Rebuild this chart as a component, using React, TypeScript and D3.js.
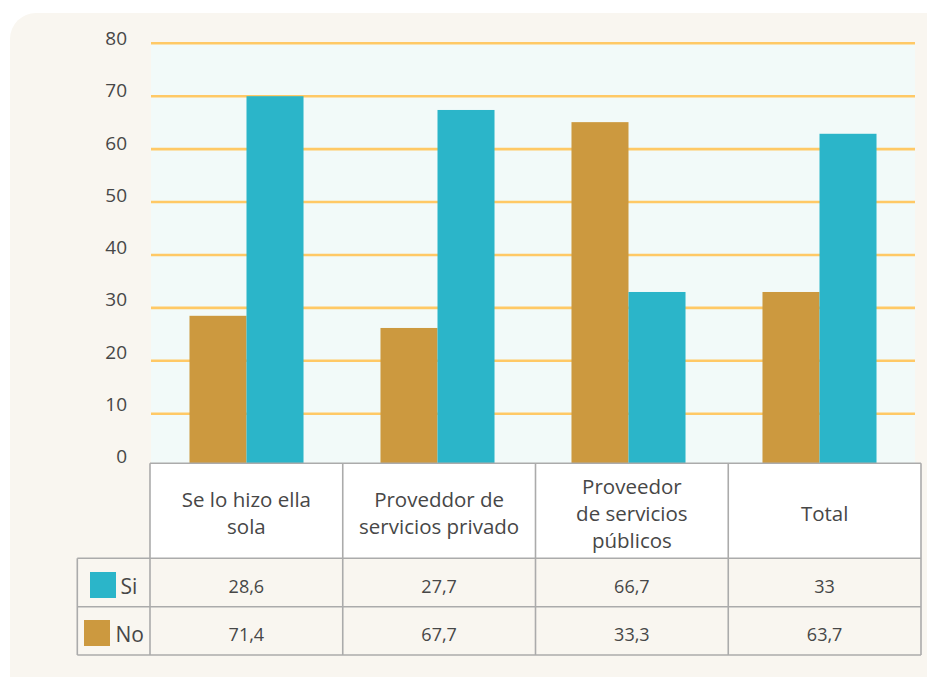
import React from "react";
import * as d3 from "d3";

const categories = ["Se lo hizo ella sola", "Proveddor de servicios privado", "Proveedor de servicios públicos", "Total"];
const categoryLines = [["Se lo hizo ella", "sola"], ["Proveddor de", "servicios privado"], ["Proveedor", "de servicios", "públicos"], ["Total"]];
const seriesKeys = ["No", "Si"];
// bar heights as drawn in the picture
const barNo = [28.5, 26.2, 65.1, 33.0];
const barSi = [70.0, 67.4, 33.0, 62.9];
// table values as printed
const tableSi = ["28,6", "27,7", "66,7", "33"];
const tableNo = ["71,4", "67,7", "33,3", "63,7"];
const yTicks = [0, 10, 20, 30, 40, 50, 60, 70, 80];

const COLORS: Record<string, string> = { Si: "#2bb5c9", No: "#cc993f" };
const FONT = "'Open Sans', sans-serif";
const TEXT = "#474747";

export default function App() {
  const W = 927, H = 677;
  const plotL = 151, plotR = 915, plotT = 43.3, plotB = 466.6;
  const y = d3.scaleLinear().domain([0, 80]).range([plotB, plotT]);
  const yLab = d3.scaleLinear().domain([0, 80]).range([463, 45]);
  const x0 = d3.scaleBand<string>().domain(categories).range([plotL, plotR]).padding(0);
  const x1 = d3.scaleBand<string>().domain(seriesKeys).range([0, x0.bandwidth()]).paddingInner(0).paddingOuter(0.675);
  const values: Record<string, number[]> = { No: barNo, Si: barSi };

  const tL = 150, tR = 921, legL = 77.3;
  const xt = d3.scaleBand<string>().domain(categories).range([tL, tR]);
  const rowHeadT = 463.3, rowSiT = 558.3, rowNoT = 606.7, rowEnd = 655;
  const border = "#ababab";
  const sw = 1.6;

  return (
    <svg width={W} height={H} style={{ position: "absolute", left: 0, top: 0 }} fontFamily={FONT}>
      <rect x={0} y={0} width={W} height={H} fill="#ffffff" />
      <rect x={10} y={13} width={W + 20} height={H + 40} rx={26} ry={26} fill="#f9f6f0" />
      <rect x={plotL} y={plotT} width={plotR - plotL} height={plotB - plotT} fill="#f2faf9" />
      {yTicks.filter((t) => t > 0).map((t) => (
        <line key={t} x1={plotL} x2={plotR} y1={y(t)} y2={y(t)} stroke="#ffc966" strokeWidth={2.6} />
      ))}
      {yTicks.map((t) => (
        <text key={t} x={127} y={yLab(t)} textAnchor="end" fontSize={19} fill={TEXT}>{t}</text>
      ))}
      {categories.map((c, i) => (
        <g key={c} transform={`translate(${x0(c)},0)`}>
          {seriesKeys.map((k) => (
            <rect key={k} x={x1(k)} y={y(values[k][i])} width={x1.bandwidth()} height={plotB - y(values[k][i])} fill={COLORS[k]} />
          ))}
        </g>
      ))}
      {/* table */}
      <rect x={tL} y={rowHeadT} width={tR - tL} height={rowSiT - rowHeadT} fill="#ffffff" />
      <rect x={legL} y={rowSiT} width={tR - legL} height={rowEnd - rowSiT} fill="#f9f6f0" />
      <g stroke={border} strokeWidth={sw} fill="none">
        <line x1={tL} x2={tR} y1={rowHeadT} y2={rowHeadT} />
        <line x1={legL} x2={tR} y1={rowSiT} y2={rowSiT} />
        <line x1={legL} x2={tR} y1={rowNoT} y2={rowNoT} />
        <line x1={legL} x2={tR} y1={rowEnd} y2={rowEnd} />
        <line x1={legL} x2={legL} y1={rowSiT} y2={rowEnd} />
        {categories.map((c) => (
          <line key={c} x1={xt(c)} x2={xt(c)} y1={rowHeadT} y2={rowEnd} />
        ))}
        <line x1={tR} x2={tR} y1={rowHeadT} y2={rowEnd} />
      </g>
      {categories.map((c, i) => {
        const cx = (xt(c) as number) + xt.bandwidth() / 2;
        const lines = categoryLines[i];
        const L = 27;
        const mid = (rowHeadT + rowSiT) / 2;
        return (
          <g key={c}>
            {lines.map((ln, j) => (
              <text key={j} x={cx} y={mid - ((lines.length - 1) * L) / 2 + j * L + 10} textAnchor="middle" fontSize={20.5} fill={TEXT}>{ln}</text>
            ))}
            <text x={cx} y={(rowSiT + rowNoT) / 2 + 10} textAnchor="middle" fontSize={18} fill={TEXT}>{tableSi[i]}</text>
            <text x={cx} y={(rowNoT + rowEnd) / 2 + 10.5} textAnchor="middle" fontSize={18} fill={TEXT}>{tableNo[i]}</text>
          </g>
        );
      })}
      <rect x={90} y={572} width={26} height={26} fill={COLORS.Si} />
      <text x={120.5} y={593.5} fontSize={21} fill={TEXT}>Si</text>
      <rect x={84} y={620} width={26} height={26} fill={COLORS.No} />
      <text x={115.5} y={642} fontSize={21} fill={TEXT}>No</text>
    </svg>
  );
}
